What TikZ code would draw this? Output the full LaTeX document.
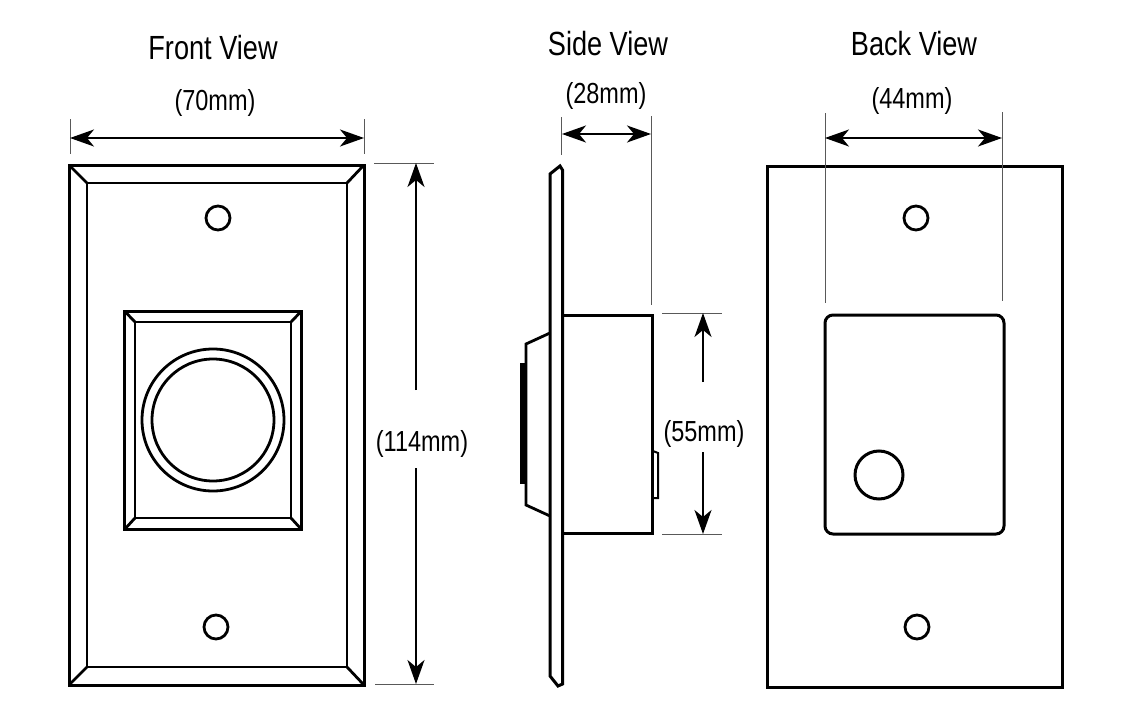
\documentclass[tikz,border=0pt]{standalone}
\usepackage{fontspec}
\setmainfont{Liberation Sans}[FakeStretch=0.81]
\usetikzlibrary{arrows.meta, positioning}

\tikzset{
	outline/.style = {line width=3pt, line join=miter},
	thinoutline/.style = {line width=2.8pt},
	tick/.style = {line width=1pt, draw=black!65},
	dim/.style = {line width=2pt, {Stealth[length=24pt, width=17pt, inset=7pt]}-{Stealth[length=24pt, width=17pt, inset=7pt]}},
	dimup/.style = {line width=2pt, -{Stealth[length=24pt, width=17pt, inset=7pt]}},
	viewtitle/.style = {font=\fontsize{33.5}{34}\selectfont, inner sep=0pt},
	dimtext/.style = {font=\fontsize{29}{30}\selectfont, inner sep=0pt}
}

\begin{document}
\begin{tikzpicture}[x=1pt, y=-1pt]

	\useasboundingbox (0,0) rectangle (1136,725);

	% front view
	\draw[outline] (69,165) rectangle (364,685);
	\draw[thinoutline] (87,183) rectangle (347,667);
	\draw[thinoutline] (69,165) -- (87,183) (364,165) -- (347,183)
	(69,685) -- (87,667) (364,685) -- (347,667);
	\draw[outline] (124.5,311) rectangle (301.5,529.5);
	\draw[thinoutline] (135,322) rectangle (291,518);
	\draw[thinoutline] (124.5,311) -- (135,322) (301.5,311) -- (291,322)
	(124.5,529.5) -- (135,518) (301.5,529.5) -- (291,518);
	\draw[thinoutline] (213,420) circle (71);
	\draw[thinoutline] (213,420) circle (61);
	\draw[thinoutline] (218,218) circle (12);
	\draw[thinoutline] (216,627) circle (12);

	% side view
	\draw[outline] (562.5,533) -- (562.5,170) -- (560,166) -- (550,174) -- (550,676)
	-- (558,686) -- (562.5,684) -- (562.5,533);
	\draw[outline] (562.5,315) -- (652,315) -- (652,533) -- (562.5,533);
	\draw[thinoutline] (550,333) -- (526,344) -- (526,505) -- (550,516);
	\fill (520,363) rectangle (527,484);
	\draw[line width=2pt] (653,451) -- (658,453) -- (658,498) -- (653,498);

	% back view
	\draw[outline] (767,166) rectangle (1062,687);
	\draw[outline, rounded corners=8pt] (825,315) rectangle (1004,534);
	\draw[outline] (879,475) circle (24);
	\draw[thinoutline] (916,218) circle (12);
	\draw[thinoutline] (917,627) circle (12);

	% dimensions
	\coordinate (w70l) at (70,138);
	\coordinate (w70r) at (364,138);
	\draw[tick] (70,119) -- (70,154);
	\draw[tick] (364,119) -- (364,154);
	\draw[dim] (w70l) -- (w70r);

	\coordinate (h114t) at (416,163);
	\coordinate (h114b) at (416,684);
	\draw[tick] (374,163) -- (434,163);
	\draw[tick] (375,684) -- (434,684);
	\draw[dimup] (416,390) -- (h114t);
	\draw[dimup] (416,468) -- (h114b);

	\coordinate (w28l) at (562,134);
	\coordinate (w28r) at (651,134);
	\draw[tick] (561,117) -- (561,155);
	\draw[tick] (651,116) -- (651,305);
	\draw[dim] (w28l) -- (w28r);

	\coordinate (h55t) at (703,313);
	\coordinate (h55b) at (703,534);
	\draw[tick] (662,313) -- (722,313);
	\draw[tick] (662,534) -- (722,534);
	\draw[dimup] (703,382) -- (h55t);
	\draw[dimup] (703,452) -- (h55b);

	\coordinate (w44l) at (825,138);
	\coordinate (w44r) at (1002,138);
	\draw[tick] (825,113) -- (825,303);
	\draw[tick] (1002,112) -- (1002,301);
	\draw[dim] (w44l) -- (w44r);

	% labels
	\node[viewtitle] (front) at (213,48) {Front View};
	\node[viewtitle] (side) at (608,44) {Side View};
	\node[viewtitle] (back) at (914,44) {Back View};
	\node[dimtext] (l70) at (215,103) {(70mm)};
	\node[dimtext] (l28) at (606,96) {(28mm)};
	\node[dimtext] (l44) at (912,101) {(44mm)};
	\node[dimtext] (l114) at (422,444) {(114mm)};
	\node[dimtext] (l55) at (704,434) {(55mm)};

\end{tikzpicture}
\end{document}
